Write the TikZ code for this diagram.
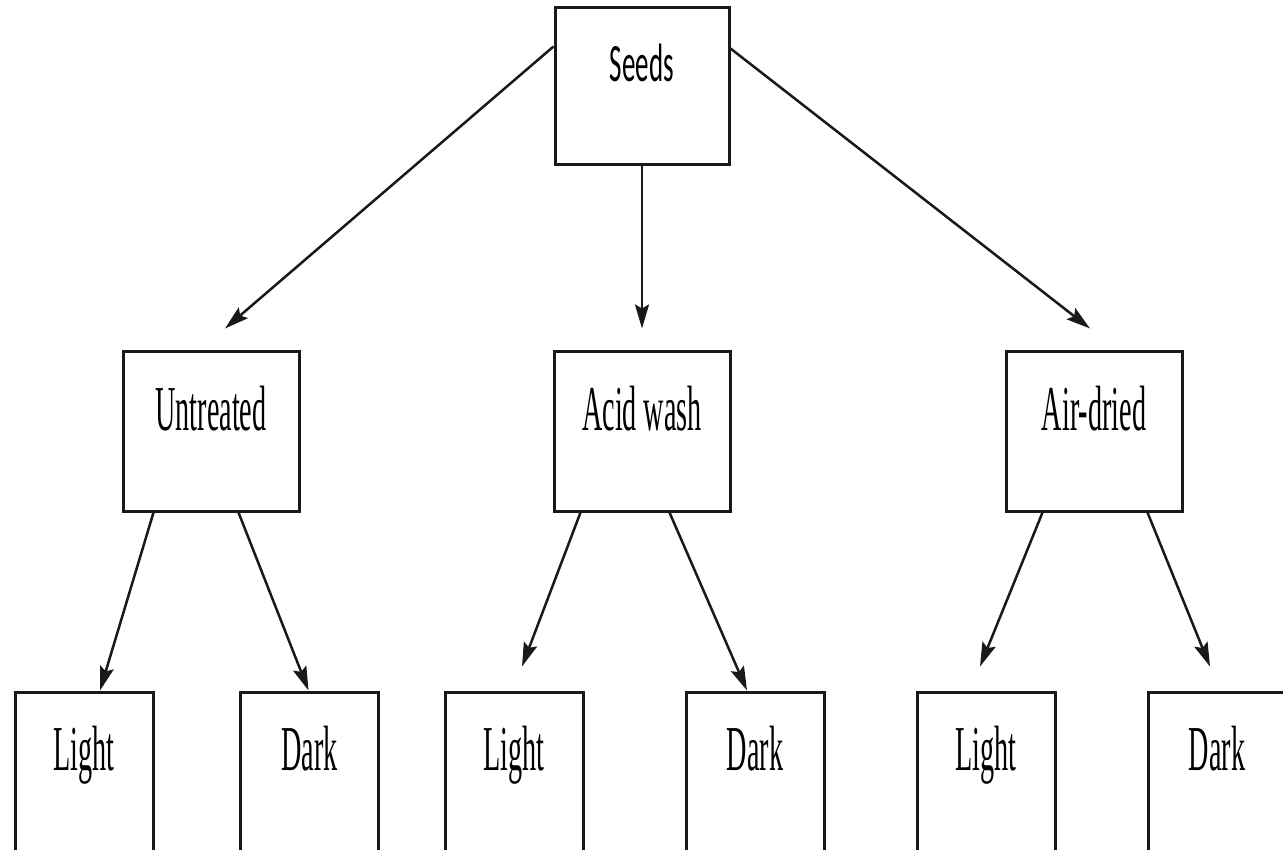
\documentclass[tikz,border=0pt]{standalone}
\usepackage{fontspec}
\setmainfont{Liberation Serif}[FakeStretch=0.44]
\newfontfamily\seedsfont{Carlito}[FakeStretch=0.5]
\usetikzlibrary{arrows.meta,calc}
\tikzset{
  box/.style={draw=black!90, line width=3pt, inner sep=0pt, anchor=base,
    font=\fontsize{64}{64}\selectfont},
  midbox/.style={box, minimum width=176pt, text height=78pt, text depth=81pt},
  leafbox/.style={box, minimum width=138pt, text height=78pt, text depth=84pt},
  topbox/.style={box, minimum width=174pt, text height=74pt, text depth=83pt,
    font=\seedsfont\fontsize{54}{54}\selectfont},
  conn/.style={draw=black!90, line width=2.5pt, -{Stealth[length=24pt,width=14pt,inset=4pt]}}
}
\begin{document}
\begin{tikzpicture}[x=1pt,y=-1pt]
\useasboundingbox (0,0) rectangle (1283,850);
\clip (0,0) rectangle (1283,850);
\fill[white] (0,0) rectangle (1283,850);
% nodes
\node[topbox]  (seeds)     at (642,82)  {Seeds};
\node[midbox]  (untreated) at (211,430) {Untreated};
\node[midbox]  (acid)      at (642,430) {Acid wash};
\node[midbox]  (air)       at (1094,430) {Air-dried};
\node[leafbox] (light1)    at (84,770)   {Light};
\node[leafbox] (dark1)     at (309.5,770) {Dark};
\node[leafbox] (light2)    at (514,770)  {Light};
\node[leafbox] (dark2)     at (755,770)  {Dark};
\node[leafbox] (light3)    at (986,770)  {Light};
\node[leafbox] (dark3)     at (1217,770) {Dark};
% connectors
\draw[conn] ($(seeds.north west)+(0,40)$) -- ($(untreated.north)+(14,-22)$);
\draw[conn] (seeds.south) -- ($(acid.north)+(0,-22)$);
\draw[conn] ($(seeds.north east)+(0,42)$) -- ($(air.north)+(-4,-22)$);
\draw[conn] ($(untreated.south west)+(32,0)$) -- ($(light1.north)+(16,0)$);
\draw[conn] ($(untreated.south west)+(117,0)$) -- ($(dark1.north)+(-1,0)$);
\draw[conn] ($(acid.south west)+(28,0)$) -- ($(light2.north)+(8,-24)$);
\draw[conn] ($(acid.south west)+(117,0)$) -- ($(dark2.north)+(-8,0)$);
\draw[conn] ($(air.south west)+(38,0)$) -- ($(light3.north)+(-6,-24)$);
\draw[conn] ($(air.south west)+(143,0)$) -- ($(dark3.north)+(-7,-24)$);
\end{tikzpicture}
\end{document}
